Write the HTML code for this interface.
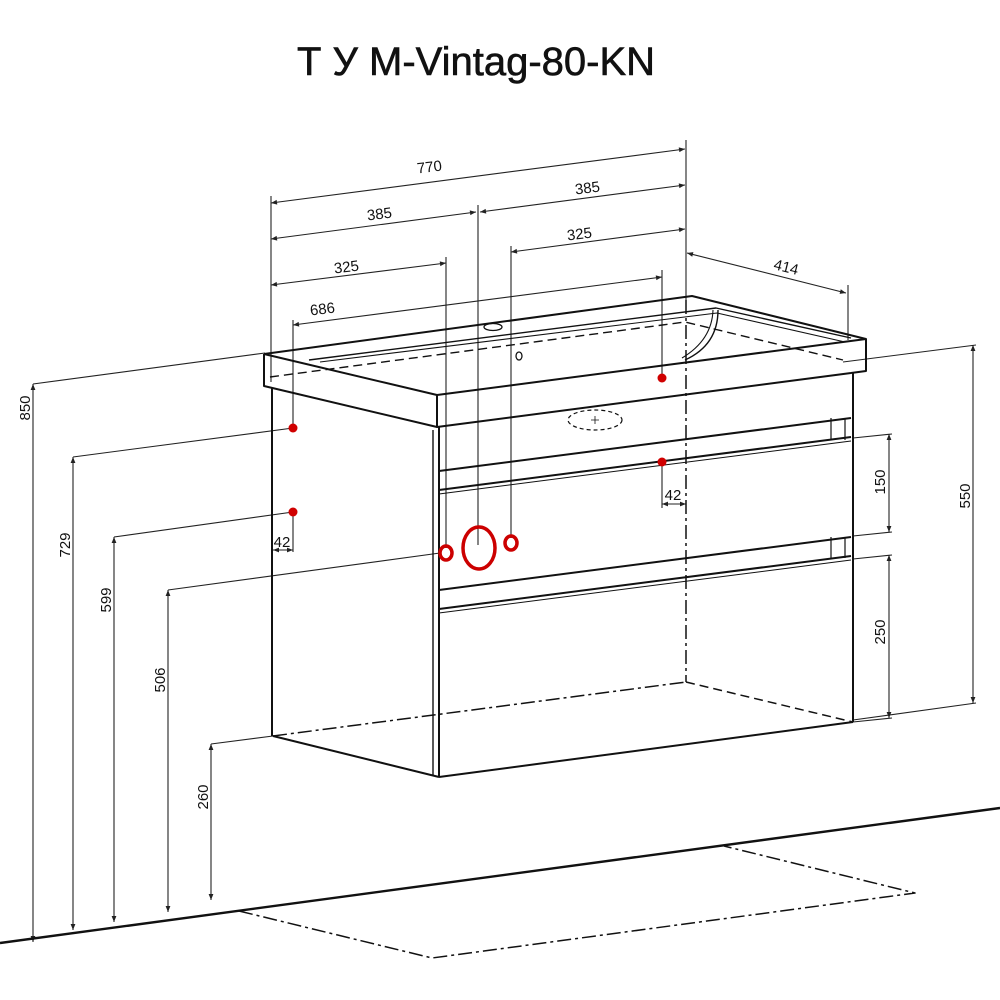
<!DOCTYPE html>
<html><head><meta charset="utf-8"><style>
html,body{margin:0;padding:0;background:#fff;}
svg{display:block}
text{font-family:"Liberation Sans",Arial,sans-serif;fill:#111}
</style></head><body>
<svg width="1000" height="1000" viewBox="0 0 1000 1000" xmlns="http://www.w3.org/2000/svg">
<defs>
<marker id="a" viewBox="0 0 10 10" refX="10" refY="5" markerWidth="9" markerHeight="6" orient="auto-start-reverse" markerUnits="userSpaceOnUse"><path d="M0,1 L10,5 L0,9 z" fill="#222"/></marker>
</defs>
<text x="476" y="75" font-size="40" text-anchor="middle" stroke="#111" stroke-width="0.6">Т У M-Vintag-80-KN</text>

<g stroke="#222" stroke-width="1.1" fill="none">
<line x1="271" y1="203" x2="685" y2="149" marker-start="url(#a)" marker-end="url(#a)"/>
<line x1="271" y1="239" x2="476" y2="212" marker-start="url(#a)" marker-end="url(#a)"/>
<line x1="480" y1="212" x2="685" y2="185" marker-start="url(#a)" marker-end="url(#a)"/>
<line x1="271" y1="285" x2="446" y2="263" marker-start="url(#a)" marker-end="url(#a)"/>
<line x1="511" y1="252" x2="685" y2="229" marker-start="url(#a)" marker-end="url(#a)"/>
<line x1="293" y1="325" x2="662" y2="277" marker-start="url(#a)" marker-end="url(#a)"/>
<line x1="687" y1="253" x2="846" y2="293" marker-start="url(#a)" marker-end="url(#a)"/>
<line x1="271" y1="196" x2="271" y2="382"/>
<line x1="686" y1="140" x2="686" y2="300"/>
<line x1="478" y1="205" x2="478" y2="545"/>
<line x1="446" y1="257" x2="446" y2="548"/>
<line x1="511" y1="246" x2="511" y2="538"/>
<line x1="293" y1="320" x2="293" y2="428"/>
<line x1="662" y1="270" x2="662" y2="378"/>
<line x1="848" y1="285" x2="848" y2="340"/>
<line x1="293" y1="512" x2="293" y2="552"/>
<line x1="662" y1="462" x2="662" y2="508"/>
<line x1="273" y1="550" x2="293" y2="550" marker-start="url(#a)" marker-end="url(#a)"/>
<line x1="662" y1="504" x2="686" y2="504" marker-start="url(#a)" marker-end="url(#a)"/>
<line x1="265" y1="353" x2="33" y2="384"/>
<line x1="33" y1="384" x2="33" y2="942" marker-start="url(#a)" marker-end="url(#a)"/>
<line x1="293" y1="428" x2="73" y2="457"/>
<line x1="73" y1="457" x2="73" y2="930" marker-start="url(#a)" marker-end="url(#a)"/>
<line x1="293" y1="512" x2="114" y2="537"/>
<line x1="114" y1="537" x2="114" y2="922" marker-start="url(#a)" marker-end="url(#a)"/>
<line x1="440" y1="553" x2="168" y2="590"/>
<line x1="168" y1="590" x2="168" y2="912" marker-start="url(#a)" marker-end="url(#a)"/>
<line x1="273" y1="736" x2="211" y2="744"/>
<line x1="211" y1="744" x2="211" y2="900" marker-start="url(#a)" marker-end="url(#a)"/>
<line x1="843" y1="362" x2="976" y2="345"/>
<line x1="853" y1="720" x2="976" y2="703"/>
<line x1="973" y1="345" x2="973" y2="703" marker-start="url(#a)" marker-end="url(#a)"/>
<line x1="853" y1="438" x2="892" y2="434"/>
<line x1="853" y1="536" x2="892" y2="532"/>
<line x1="889" y1="434" x2="889" y2="532" marker-start="url(#a)" marker-end="url(#a)"/>
<line x1="853" y1="559" x2="892" y2="555"/>
<line x1="853" y1="722" x2="892" y2="718"/>
<line x1="889" y1="555" x2="889" y2="718" marker-start="url(#a)" marker-end="url(#a)"/>
</g>

<g stroke="#111" stroke-width="2" fill="none" stroke-linejoin="round">
<path d="M264,354 L692,296 L866,339 L866,371 L851,373"/>
<path d="M264,354 L437,395 L866,339"/>
<path d="M264,354 L264,386 L437,427 L437,395"/>
<path d="M437,427 L851,373"/>
<path d="M309,360 L716,308 L851,338" stroke-width="1.4"/>
<path d="M320,362 L717,313 L845,342" stroke-width="1.1"/>
<path d="M270,377 L685,322 L843,360" stroke-width="1.4" stroke-dasharray="9,5"/>
<path d="M718,310 Q718,345 685,360" stroke-width="1.4"/>
<path d="M713,310 Q712,340 682,358" stroke-width="1.1"/>
<line x1="272" y1="388" x2="272" y2="736"/>
<line x1="273" y1="736" x2="439" y2="777"/>
<line x1="439" y1="777" x2="853" y2="722"/>
<line x1="433" y1="430" x2="433" y2="775" stroke-width="1.4"/>
<line x1="439" y1="427" x2="439" y2="777"/>
<line x1="853" y1="373" x2="853" y2="722"/>
<line x1="439" y1="471" x2="851" y2="418"/>
<line x1="439" y1="490" x2="851" y2="437"/>
<line x1="439" y1="494" x2="851" y2="441" stroke-width="1"/>
<line x1="439" y1="590" x2="851" y2="537"/>
<line x1="439" y1="609" x2="851" y2="556"/>
<line x1="439" y1="613" x2="851" y2="560" stroke-width="1"/>
<line x1="831" y1="418" x2="831" y2="440" stroke-width="1.2"/>
<line x1="845" y1="418" x2="845" y2="440" stroke-width="1.2"/>
<line x1="831" y1="537" x2="831" y2="558" stroke-width="1.2"/>
<line x1="845" y1="537" x2="845" y2="558" stroke-width="1.2"/>
<line x1="686" y1="300" x2="686" y2="682" stroke-width="1.5" stroke-dasharray="14,4,3,4"/>
<line x1="273" y1="736" x2="686" y2="682" stroke-width="1.5" stroke-dasharray="14,4,3,4"/>
<line x1="686" y1="682" x2="853" y2="722" stroke-width="1.5" stroke-dasharray="9,5"/>
<line x1="0" y1="943" x2="1000" y2="808" stroke-width="2.4"/>
<path d="M239,911 L432,958 L915,893 L724,846" stroke-width="1.5" stroke-dasharray="14,4,3,4"/>
<ellipse cx="493" cy="327" rx="9" ry="3.5" stroke-width="1.3"/>
<ellipse cx="519" cy="356" rx="3" ry="4" stroke-width="1.3"/>
<ellipse cx="595" cy="420" rx="27" ry="10" stroke-width="1.2" stroke-dasharray="4,3"/>
<path d="M591,420 h8 M595,416 v8" stroke-width="0.8"/>
</g>

<g fill="#d00000">
<circle cx="293" cy="428" r="4.5"/><circle cx="293" cy="512" r="4.5"/>
<circle cx="662" cy="378" r="4.5"/><circle cx="662" cy="462" r="4.5"/>
</g>
<g fill="none" stroke="#cc0000" stroke-width="3.5">
<ellipse cx="479" cy="548" rx="16" ry="21"/>
<ellipse cx="446" cy="553" rx="6" ry="7"/>
<ellipse cx="511" cy="543" rx="6" ry="7"/>
</g>

<g font-size="15">
<text x="430" y="172" transform="rotate(-7 430 172)" text-anchor="middle">770</text>
<text x="380" y="219" transform="rotate(-7 380 219)" text-anchor="middle">385</text>
<text x="588" y="193" transform="rotate(-7 588 193)" text-anchor="middle">385</text>
<text x="347" y="272" transform="rotate(-7 347 272)" text-anchor="middle">325</text>
<text x="580" y="239" transform="rotate(-7 580 239)" text-anchor="middle">325</text>
<text x="323" y="314" transform="rotate(-7 323 314)" text-anchor="middle">686</text>
<text x="785" y="272" transform="rotate(14 785 272)" text-anchor="middle">414</text>
<text x="282" y="547" text-anchor="middle">42</text>
<text x="673" y="500" text-anchor="middle">42</text>
<text transform="translate(30,408) rotate(-90)" text-anchor="middle">850</text>
<text transform="translate(70,545) rotate(-90)" text-anchor="middle">729</text>
<text transform="translate(111,600) rotate(-90)" text-anchor="middle">599</text>
<text transform="translate(165,680) rotate(-90)" text-anchor="middle">506</text>
<text transform="translate(208,797) rotate(-90)" text-anchor="middle">260</text>
<text transform="translate(970,496) rotate(-90)" text-anchor="middle">550</text>
<text transform="translate(885,482) rotate(-90)" text-anchor="middle">150</text>
<text transform="translate(885,632) rotate(-90)" text-anchor="middle">250</text>
</g>
</svg>
</body></html>
